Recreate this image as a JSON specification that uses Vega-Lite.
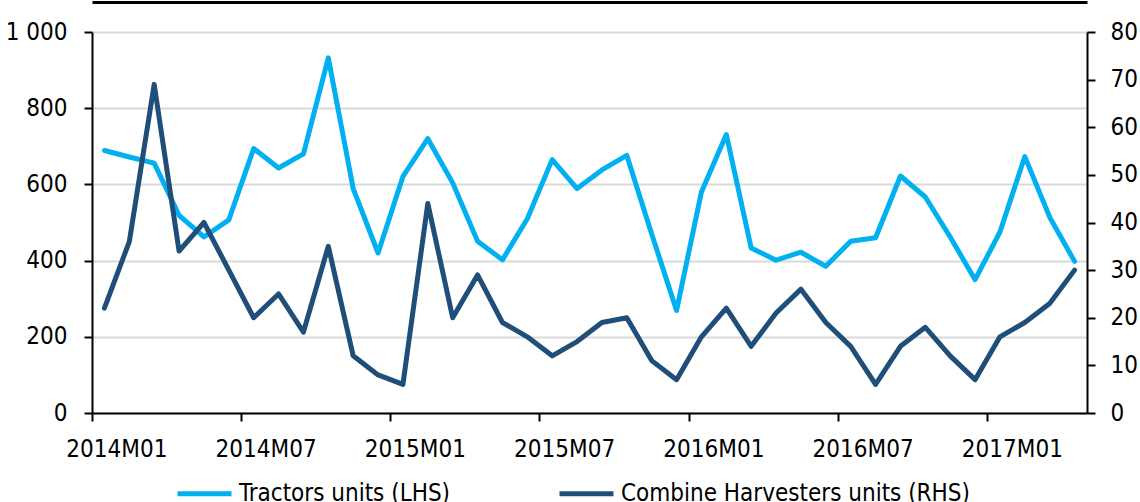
{
  "$schema": "https://vega.github.io/schema/vega-lite/v6.json",
  "autosize": {"type": "none"},
  "width": 995,
  "height": 381,
  "padding": {"left": 92, "top": 32, "right": 53, "bottom": 89},
  "background": "white",
  "config": {
    "view": {"stroke": null},
    "font": "DejaVu Sans Condensed, Liberation Sans",
    "axis": {
      "labelFont": "DejaVu Sans Condensed, Liberation Sans",
      "labelFontSize": 24,
      "labelColor": "black",
      "domainColor": "black",
      "domainWidth": 2,
      "tickColor": "black",
      "tickWidth": 2,
      "tickSize": 8,
      "title": null
    },
    "legend": {
      "labelFont": "DejaVu Sans Condensed, Liberation Sans",
      "labelFontSize": 24,
      "labelColor": "black",
      "labelLimit": 500
    }
  },
  "data": {
    "values": [
      {"m": "2014M01", "tractors": 689, "combine": 22},
      {"m": "2014M02", "tractors": 672, "combine": 36},
      {"m": "2014M03", "tractors": 656, "combine": 69},
      {"m": "2014M04", "tractors": 519, "combine": 34},
      {"m": "2014M05", "tractors": 462, "combine": 40},
      {"m": "2014M06", "tractors": 507, "combine": 30},
      {"m": "2014M07", "tractors": 694, "combine": 20},
      {"m": "2014M08", "tractors": 643, "combine": 25},
      {"m": "2014M09", "tractors": 680, "combine": 17},
      {"m": "2014M10", "tractors": 932, "combine": 35},
      {"m": "2014M11", "tractors": 589, "combine": 12},
      {"m": "2014M12", "tractors": 420, "combine": 8},
      {"m": "2015M01", "tractors": 621, "combine": 6},
      {"m": "2015M02", "tractors": 720, "combine": 44},
      {"m": "2015M03", "tractors": 604, "combine": 20},
      {"m": "2015M04", "tractors": 451, "combine": 29},
      {"m": "2015M05", "tractors": 402, "combine": 19},
      {"m": "2015M06", "tractors": 510, "combine": 16},
      {"m": "2015M07", "tractors": 665, "combine": 12},
      {"m": "2015M08", "tractors": 589, "combine": 15},
      {"m": "2015M09", "tractors": 638, "combine": 19},
      {"m": "2015M10", "tractors": 676, "combine": 20},
      {"m": "2015M11", "tractors": 470, "combine": 11},
      {"m": "2015M12", "tractors": 269, "combine": 7},
      {"m": "2016M01", "tractors": 580, "combine": 16},
      {"m": "2016M02", "tractors": 731, "combine": 22},
      {"m": "2016M03", "tractors": 433, "combine": 14},
      {"m": "2016M04", "tractors": 401, "combine": 21},
      {"m": "2016M05", "tractors": 422, "combine": 26},
      {"m": "2016M06", "tractors": 385, "combine": 19},
      {"m": "2016M07", "tractors": 451, "combine": 14},
      {"m": "2016M08", "tractors": 460, "combine": 6},
      {"m": "2016M09", "tractors": 622, "combine": 14},
      {"m": "2016M10", "tractors": 567, "combine": 18},
      {"m": "2016M11", "tractors": 462, "combine": 12},
      {"m": "2016M12", "tractors": 350, "combine": 7},
      {"m": "2017M01", "tractors": 475, "combine": 16},
      {"m": "2017M02", "tractors": 673, "combine": 19},
      {"m": "2017M03", "tractors": 514, "combine": 23},
      {"m": "2017M04", "tractors": 398, "combine": 30}
    ]
  },
  "layer": [
    {
      "mark": {"type": "line", "strokeWidth": 5, "strokeJoin": "round", "strokeCap": "round"},
      "encoding": {
        "x": {
          "field": "m",
          "type": "ordinal",
          "sort": null,
          "scale": {"type": "band", "paddingInner": 0, "paddingOuter": 0},
          "axis": {
            "values": ["2014M01", "2014M07", "2015M01", "2015M07", "2016M01", "2016M07", "2017M01"],
            "bandPosition": 0,
            "labelOffset": 12.4,
            "labelAngle": 0,
            "labelPadding": 16,
            "grid": false
          }
        },
        "y": {
          "field": "tractors",
          "type": "quantitative",
          "scale": {"domain": [0, 1000], "nice": false},
          "axis": {
            "orient": "left",
            "values": [0, 200, 400, 600, 800, 1000],
            "labelExpr": "replace(format(datum.value, ','), ',', ' ')",
            "labelPadding": 17,
            "grid": true,
            "gridColor": "#D9D9D9",
            "gridWidth": 2
          }
        },
        "color": {
          "datum": "Tractors units (LHS)",
          "type": "nominal",
          "scale": {
            "domain": ["Tractors units (LHS)", "Combine Harvesters units (RHS)"],
            "range": ["#00B0F0", "#1F4E79"]
          },
          "legend": {
            "title": null,
            "orient": "none",
            "direction": "horizontal",
            "legendX": 83,
            "legendY": 432,
            "symbolType": "stroke",
            "symbolSize": 2916,
            "symbolStrokeWidth": 5,
            "labelOffset": 5,
            "columnPadding": 98
          }
        }
      }
    },
    {
      "mark": {"type": "line", "strokeWidth": 5, "strokeJoin": "round", "strokeCap": "round"},
      "encoding": {
        "x": {
          "field": "m",
          "type": "ordinal",
          "sort": null,
          "axis": {
            "orient": "top",
            "offset": 30,
            "values": [],
            "labels": false,
            "ticks": false,
            "grid": false,
            "domain": true,
            "domainWidth": 3,
            "domainColor": "black"
          }
        },
        "y": {
          "field": "combine",
          "type": "quantitative",
          "scale": {"domain": [0, 80], "nice": false},
          "axis": {
            "orient": "right",
            "values": [0, 10, 20, 30, 40, 50, 60, 70, 80],
            "labelPadding": 15,
            "grid": false
          }
        },
        "color": {"datum": "Combine Harvesters units (RHS)", "type": "nominal"}
      }
    }
  ],
  "resolve": {"scale": {"y": "independent"}, "axis": {"x": "independent"}}
}
